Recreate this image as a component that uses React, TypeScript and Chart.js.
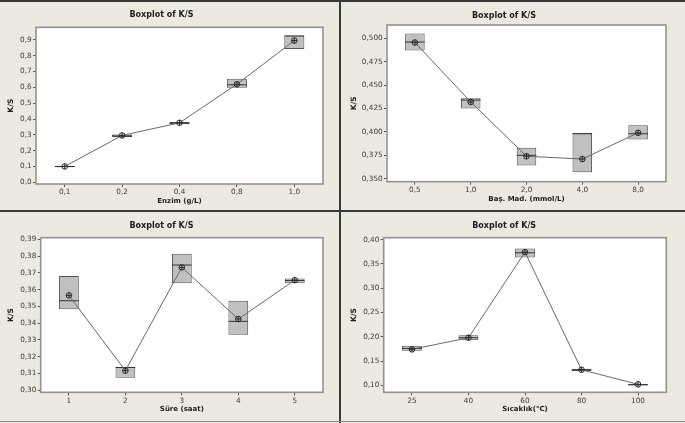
import React, { useEffect, useRef } from "react";
import { Chart, registerables } from "chart.js";

Chart.register(...registerables);

// ---- Enzim (g/L) ----
const enzimLabels = ["0,1", "0,2", "0,4", "0,8", "1,0"];
const enzimQ1 = [0.096, 0.287, 0.367, 0.597, 0.842];
const enzimQ3 = [0.104, 0.302, 0.381, 0.654, 0.928];
const enzimMedian = [0.099, 0.293, 0.373, 0.616, 0.925];
const enzimMean = [0.1, 0.296, 0.376, 0.62, 0.896];
const enzimTicks = [0, 0.1, 0.2, 0.3, 0.4, 0.5, 0.6, 0.7, 0.8, 0.9];
const enzimTickLabels = ["0,0", "0,1", "0,2", "0,3", "0,4", "0,5", "0,6", "0,7", "0,8", "0,9"];

// ---- Baş. Mad. (mmol/L) ----
const basLabels = ["0,5", "1,0", "2,0", "4,0", "8,0"];
const basQ1 = [0.487, 0.425, 0.364, 0.357, 0.392];
const basQ3 = [0.505, 0.436, 0.383, 0.399, 0.407];
const basMedian = [0.496, 0.434, 0.375, 0.398, 0.398];
const basMean = [0.4955, 0.432, 0.374, 0.371, 0.399];
const basTicks = [0.35, 0.375, 0.4, 0.425, 0.45, 0.475, 0.5];
const basTickLabels = ["0,350", "0,375", "0,400", "0,425", "0,450", "0,475", "0,500"];

// ---- Süre (saat) ----
const sureLabels = ["1", "2", "3", "4", "5"];
const sureQ1 = [0.3483, 0.3075, 0.3638, 0.3331, 0.3639];
const sureQ3 = [0.3681, 0.3139, 0.3814, 0.3534, 0.3667];
const sureMedian = [0.3534, 0.3136, 0.3747, 0.3411, 0.3655];
const sureMean = [0.3566, 0.3117, 0.3733, 0.3425, 0.3657];
const sureTicks = [0.3, 0.31, 0.32, 0.33, 0.34, 0.35, 0.36, 0.37, 0.38, 0.39];
const sureTickLabels = ["0,30", "0,31", "0,32", "0,33", "0,34", "0,35", "0,36", "0,37", "0,38", "0,39"];

// ---- Sıcaklık (°C) ----
const sicLabels = ["25", "40", "60", "80", "100"];
const sicQ1 = [0.1712, 0.1926, 0.3635, 0.1294, 0.1];
const sicQ3 = [0.1815, 0.2029, 0.382, 0.134, 0.1027];
const sicMedian = [0.176, 0.198, 0.373, 0.132, 0.101];
const sicMean = [0.1741, 0.198, 0.3744, 0.132, 0.102];
const sicTicks = [0.1, 0.15, 0.2, 0.25, 0.3, 0.35, 0.4];
const sicTickLabels = ["0,10", "0,15", "0,20", "0,25", "0,30", "0,35", "0,40"];

const PANEL_BG = "#ECE9E1";
const FONT = "'DejaVu Sans', Verdana, sans-serif";

type PanelProps = {
  x: number; y: number; w: number; h: number;
  plot: { l: number; t: number; r: number; b: number };
  titleY: number; xTitleY: number; yTitleX: number;
  labels: string[]; q1: number[]; q3: number[]; median: number[]; mean: number[];
  ticks: number[]; tickLabels: string[]; yMin: number; yMax: number;
  xTitle: string;
};

const framePlugin = {
  id: "panelFrame",
  beforeDraw(chart: any) {
    const { ctx, width, height, chartArea: a } = chart;
    ctx.save();
    ctx.fillStyle = PANEL_BG;
    ctx.fillRect(0, 0, width, height);
    ctx.fillStyle = "#ffffff";
    ctx.fillRect(a.left, a.top, a.right - a.left, a.bottom - a.top);
    ctx.restore();
  },
  afterDraw(chart: any) {
    const { ctx, chartArea: a } = chart;
    ctx.save();
    ctx.strokeStyle = "#939393";
    ctx.lineWidth = 1.6;
    ctx.strokeRect(a.left, a.top, a.right - a.left, a.bottom - a.top);
    ctx.restore();
  },
};

function BoxPanel(p: PanelProps) {
  const ref = useRef<HTMLCanvasElement>(null);
  useEffect(() => {
    if (!ref.current) return;
    const titleSize = 8;
    const titleLH = titleSize * 1.2;
    const axisTitleLH = 7 * 1.2;
    const titlePadTop = p.titleY - titleLH / 2;
    const titlePadBottom = p.plot.t - titlePadTop - titleLH;
    const xAxisH = p.h - p.plot.b;
    const chart = new Chart(ref.current, {
      type: "bar",
      data: {
        labels: p.labels,
        datasets: [
          {
            type: "line",
            data: p.mean,
            showLine: false,
            pointStyle: "cross",
            pointRadius: 2.8,
            pointBorderColor: "#2a2a2a",
            pointBorderWidth: 1,
            order: 0,
          } as any,
          {
            type: "line",
            data: p.mean,
            borderColor: "#6a6a6a",
            borderWidth: 1,
            pointStyle: "circle",
            pointRadius: 2.8,
            pointBackgroundColor: "rgba(255,255,255,0)",
            pointBorderColor: "#2a2a2a",
            pointBorderWidth: 1,
            order: 1,
          } as any,
          {
            type: "line",
            data: p.median,
            showLine: false,
            pointStyle: "line",
            pointRadius: 9.8,
            pointBorderColor: "#333",
            pointBorderWidth: 1,
            order: 2,
          } as any,
          {
            type: "bar",
            data: p.q1.map((v, i) => [v, p.q3[i]]),
            backgroundColor: "#c0c0c0",
            borderColor: "#555555",
            borderWidth: 1,
            borderSkipped: false,
            barPercentage: 0.35,
            categoryPercentage: 1,
            order: 3,
          } as any,
        ],
      },
      options: {
        responsive: false,
        maintainAspectRatio: false,
        devicePixelRatio: 1,
        animation: false,
        events: [],
        layout: { padding: { left: 0, right: p.w - p.plot.r, top: 0, bottom: 0 } },
        plugins: {
          legend: { display: false },
          tooltip: { enabled: false },
          title: {
            display: true,
            text: "Boxplot of K/S",
            color: "#1c1c1c",
            font: { family: FONT, size: titleSize, weight: "bold", lineHeight: 1.2 },
            padding: { top: titlePadTop, bottom: titlePadBottom },
          },
        },
        scales: {
          x: {
            type: "category",
            offset: true,
            border: { display: false },
            grid: { display: true, drawOnChartArea: false, drawTicks: true, tickLength: 3, offset: false, color: "#555" },
            ticks: { color: "#3c3c3c", padding: 1, maxRotation: 0, font: { family: FONT, size: 7.3 } },
            title: {
              display: true,
              text: p.xTitle,
              color: "#1c1c1c",
              font: { family: FONT, size: 7, weight: "bold", lineHeight: 1.2 },
              padding: { top: 0, bottom: p.h - p.xTitleY - axisTitleLH / 2 },
            },
            afterFit: (s: any) => { s.height = xAxisH; },
          },
          y: {
            type: "linear",
            min: p.yMin,
            max: p.yMax,
            border: { display: false },
            grid: { display: true, drawOnChartArea: false, drawTicks: true, tickLength: 3, color: "#555" },
            afterBuildTicks: (s: any) => { s.ticks = p.ticks.map((v) => ({ value: v })); },
            ticks: {
              color: "#3c3c3c",
              padding: 1.3,
              font: { family: FONT, size: 7.3 },
              callback: (_v: any, i: number) => p.tickLabels[i],
            },
            title: {
              display: true,
              text: "K/S",
              color: "#1c1c1c",
              font: { family: FONT, size: 7.5, weight: "bold", lineHeight: 1.2 },
              padding: { top: p.yTitleX - axisTitleLH / 2, bottom: 0 },
            },
            afterFit: (s: any) => { s.width = p.plot.l; },
          },
        },
      },
      plugins: [framePlugin],
    } as any);
    return () => chart.destroy();
  }, []);
  return (
    <canvas
      ref={ref}
      width={p.w}
      height={p.h}
      style={{ position: "absolute", left: p.x, top: p.y, width: p.w, height: p.h }}
    />
  );
}

export default function App() {
  const line = (s: React.CSSProperties) => <div style={{ position: "absolute", ...s }} />;
  return (
    <div style={{ position: "fixed", left: 0, top: 0, width: 685, height: 423, background: PANEL_BG, overflow: "hidden" }}>
      <BoxPanel
        x={0} y={2} w={339} h={208}
        plot={{ l: 36, t: 25.3, r: 323, b: 182 }}
        titleY={13} xTitleY={199.3} yTitleX={11}
        labels={enzimLabels} q1={enzimQ1} q3={enzimQ3} median={enzimMedian} mean={enzimMean}
        ticks={enzimTicks} tickLabels={enzimTickLabels} yMin={-0.011} yMax={0.98}
        xTitle="Enzim (g/L)"
      />
      <BoxPanel
        x={342} y={2} w={343} h={208}
        plot={{ l: 45, t: 23, r: 324, b: 179.7 }}
        titleY={13.7} xTitleY={196.7} yTitleX={12}
        labels={basLabels} q1={basQ1} q3={basQ3} median={basMedian} mean={basMean}
        ticks={basTicks} tickLabels={basTickLabels} yMin={0.3468} yMax={0.5142}
        xTitle="Baş. Mad. (mmol/L)"
      />
      <BoxPanel
        x={0} y={213} w={339} h={208}
        plot={{ l: 40.7, t: 24.7, r: 323, b: 179.3 }}
        titleY={13} xTitleY={196.3} yTitleX={11}
        labels={sureLabels} q1={sureQ1} q3={sureQ3} median={sureMedian} mean={sureMean}
        ticks={sureTicks} tickLabels={sureTickLabels} yMin={0.2988} yMax={0.391}
        xTitle="Süre (saat)"
      />
      <BoxPanel
        x={342} y={213} w={343} h={208}
        plot={{ l: 41.7, t: 24.7, r: 324.3, b: 179.3 }}
        titleY={13} xTitleY={196.3} yTitleX={12}
        labels={sicLabels} q1={sicQ1} q3={sicQ3} median={sicMedian} mean={sicMean}
        ticks={sicTicks} tickLabels={sicTickLabels} yMin={0.0856} yMax={0.4041}
        xTitle="Sıcaklık(°C)"
      />
      {line({ left: 0, top: 0, width: 685, height: 2, background: "#3a3a3a" })}
      {line({ left: 339, top: 0, width: 2, height: 423, background: "#3a3a3a" })}
      {line({ left: 0, top: 210, width: 685, height: 2, background: "#3a3a3a" })}
      {line({ left: 0, top: 421, width: 685, height: 1, background: "#8a8a8a" })}
    </div>
  );
}
